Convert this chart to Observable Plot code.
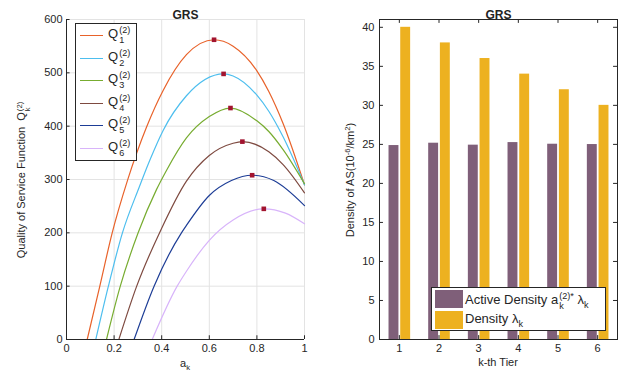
<!DOCTYPE html>
<html><head><meta charset="utf-8">
<script src="https://cdn.jsdelivr.net/npm/d3@7"></script>
<script src="https://cdn.jsdelivr.net/npm/@observablehq/plot@0.6"></script>
<style>
body{margin:0;background:#fff}
#root{position:relative;width:638px;height:372px;overflow:hidden;font-family:"Liberation Sans",Arial,sans-serif;color:#262626;background:#fff}
#root svg{position:absolute;top:0}
.lab{position:absolute;white-space:nowrap;transform:translate(-50%,-50%);font-size:11px;line-height:1}
.rot{transform:translate(-50%,-50%) rotate(-90deg)}
.ss{display:inline-block;vertical-align:-0.6em;font-size:0.7em;line-height:1.1;text-align:left;margin-left:1px}
.ss>span{display:block}
.sb{font-size:0.7em;vertical-align:-0.45em;line-height:0}
sup{font-size:0.7em;vertical-align:0.5em;line-height:0}
.legL{position:absolute;left:75px;top:23px;width:62px;height:138px;border:1px solid #262626;background:#fff;box-sizing:border-box}
.legL .row{position:absolute;left:0;height:23px;width:100%}
.legL .ln{position:absolute;left:4px;width:23px;top:11px;height:0;border-top:1.5px solid}
.legL .tx{position:absolute;left:32px;top:1px;font-size:13px;line-height:1}
.legR{position:absolute;left:431px;top:287px;width:175px;height:44px;border:1px solid #262626;background:#fff;box-sizing:border-box}
.legR .sw{position:absolute;left:3px;width:28px;height:18px}
.legR .tx{position:absolute;left:33px;font-size:13px;line-height:1}
</style></head><body><div id="root"></div><script>
// ---------- Left chart data ----------
const chartTitle = "GRS";
const seriesIdx = [1, 2, 3, 4, 5, 6];
const seriesColors = ["#e8622a", "#4dbeee", "#77ac30", "#7e4a40", "#1d3d96", "#d8b4fa"];
const aQ1 = [0.087, 0.14, 0.192, 0.256, 0.336, 0.406, 0.504, 0.62, 0.7, 0.798, 0.85, 0.91, 1.0];
const vQ1 = [0, 100, 200, 298, 398, 467, 534, 562, 550, 505, 465, 405, 290];
const aQ2 = [0.123, 0.176, 0.235, 0.305, 0.35, 0.406, 0.504, 0.66, 0.7, 0.8, 0.85, 0.91, 1.0];
const vQ2 = [0, 100, 200, 285, 336, 392, 457, 498, 494, 458, 428, 380, 290];
const aQ3 = [0.168, 0.226, 0.301, 0.378, 0.42, 0.504, 0.6, 0.689, 0.8, 0.85, 0.91, 1.0];
const vQ3 = [0, 100, 200, 281, 317, 378, 418, 434, 410, 390, 356, 292];
const aQ4 = [0.22, 0.295, 0.396, 0.504, 0.6, 0.7, 0.739, 0.85, 0.91, 1.0];
const vQ4 = [0, 100, 205, 297, 345, 368, 371, 352, 328, 275];
const aQ5 = [0.284, 0.368, 0.483, 0.504, 0.6, 0.693, 0.78, 0.871, 1.0];
const vQ5 = [0, 100, 200, 214, 270, 298, 308, 298, 251];
const aQ6 = [0.36, 0.465, 0.504, 0.6, 0.7, 0.829, 0.92, 1.0];
const vQ6 = [0, 100, 128, 186, 224, 245, 237, 217];
const peakA = [0.62, 0.66, 0.689, 0.739, 0.78, 0.829];
const peakQ = [562, 498, 434, 371, 308, 245];
const xTicksL = [0, 0.2, 0.4, 0.6, 0.8, 1];
const yTicksL = [0, 100, 200, 300, 400, 500, 600];

// ---------- Right chart data ----------
const tiers = [1, 2, 3, 4, 5, 6];
const activeDensity = [24.85, 25.15, 24.9, 25.23, 25.02, 24.98];
const density = [40, 38, 36, 34, 32, 30];
const barColors = ["#7f5f79", "#edb120"];
const yTicksR = [0, 5, 10, 15, 20, 25, 30, 35, 40];

const font = "Liberation Sans, Arial, sans-serif";
const axisCol = "#262626";
const root = document.getElementById("root");

const curveA = [aQ1, aQ2, aQ3, aQ4, aQ5, aQ6];
const curveV = [vQ1, vQ2, vQ3, vQ4, vQ5, vQ6];
const lineData = curveA.flatMap((as, i) => as.map((a, j) => ({a, v: curveV[i][j], s: seriesIdx[i]})));
const peaks = peakA.map((a, i) => ({a, v: peakQ[i]}));

const left = Plot.plot({
  width: 320, height: 372,
  marginLeft: 66, marginRight: 16, marginTop: 19, marginBottom: 33,
  style: {fontFamily: font, fontSize: "11px", color: axisCol, background: "transparent", overflow: "visible"},
  x: {domain: [0, 1]},
  y: {domain: [0, 600]},
  color: {domain: seriesIdx, range: seriesColors},
  marks: [
    Plot.gridX(xTicksL, {stroke: "#e3e3e3", strokeOpacity: 1, strokeWidth: 1}),
    Plot.gridY(yTicksL, {stroke: "#e3e3e3", strokeOpacity: 1, strokeWidth: 1}),
    Plot.axisX(xTicksL, {tickSize: 0, tickPadding: 5, label: null, tickFormat: d => String(d), fill: axisCol}),
    Plot.axisY(yTicksL, {tickSize: 0, tickPadding: 4, label: null, fill: axisCol}),
    Plot.line(lineData, {x: "a", y: "v", z: "s", stroke: "s", strokeWidth: 1.2, curve: "monotone-x"}),
    Plot.dot(peaks, {x: "a", y: "v", symbol: "square", r: 2.6, fill: "#a2142f", stroke: "none"}),
    Plot.ruleX([0], {stroke: axisCol}),
    Plot.ruleY([0], {stroke: axisCol}),
    Plot.ruleY(yTicksL, {x1: 0, x2: 0.015, stroke: axisCol}),
    Plot.ruleX(xTicksL, {y1: 0, y2: 7, stroke: axisCol}),
    Plot.text([chartTitle], {frameAnchor: "top", dy: -9, fontSize: 12, fontWeight: "bold", fill: "#222"})
  ]
});
left.style.left = "0px";
root.appendChild(left);

const barRows = tiers.flatMap((t, i) => [
  {t, v: activeDensity[i], k: 0},
  {t, v: density[i], k: 1}
]);
const right = Plot.plot({
  width: 318, height: 372,
  marginLeft: 59, marginRight: 21, marginTop: 19, marginBottom: 33,
  style: {fontFamily: font, fontSize: "11px", color: axisCol, background: "transparent", overflow: "visible"},
  x: {domain: [0.5, 6.5]},
  y: {domain: [0, 41]},
  marks: [
    Plot.rectY(barRows, {
      x1: d => d.k === 0 ? d.t - 0.26 : d.t + 0.035,
      x2: d => d.k === 0 ? d.t - 0.01 : d.t + 0.285,
      y1: 0, y2: "v",
      fill: d => barColors[d.k]
    }),
    Plot.axisX(tiers, {tickSize: 0, tickPadding: 5, label: null, fill: axisCol}),
    Plot.axisY(yTicksR, {tickSize: 0, tickPadding: 5, label: null, fill: axisCol}),
    Plot.frame({stroke: axisCol}),
    Plot.ruleY(yTicksR, {x1: 0.5, x2: 0.6, stroke: axisCol}),
    Plot.ruleY(yTicksR, {x1: 6.4, x2: 6.5, stroke: axisCol}),
    Plot.ruleX(tiers, {y1: 0, y2: 0.5, stroke: axisCol}),
    Plot.ruleX(tiers, {y1: 40.5, y2: 41, stroke: axisCol}),
    Plot.text([chartTitle], {frameAnchor: "top", dy: -9, fontSize: 12, fontWeight: "bold", fill: "#222"})
  ]
});
right.style.left = "320px";
root.appendChild(right);

// ---------- HTML labels & legends ----------
const ss = (sup, sub) => `<span class="ss"><span>${sup}</span><span>${sub}</span></span>`;
function addLabel(html, x, y, rot) {
  const d = document.createElement("div");
  d.className = "lab" + (rot ? " rot" : "");
  d.style.left = x + "px"; d.style.top = y + "px";
  d.innerHTML = html;
  root.appendChild(d);
}
addLabel(`a<span class="sb">k</span>`, 185, 363);
addLabel(`k-th Tier`, 498, 362);
addLabel(`Quality of Service Function&nbsp; Q${ss("(2)", "k")}`, 24, 180, true);
addLabel(`Density of AS(10<sup>-6</sup>/km<sup>2</sup>)`, 350, 180, true);

const legL = document.createElement("div");
legL.className = "legL";
legL.innerHTML = seriesIdx.map((s, i) =>
  `<div class="row" style="top:${i * 22.6}px"><div class="ln" style="border-color:${seriesColors[i]}"></div><div class="tx">Q${ss("(2)", s)}</div></div>`
).join("");
root.appendChild(legL);

const legendLabels = [
  `Active Density a${ss("(2)*", "k")} &lambda;<span class="sb">k</span>`,
  `Density &lambda;<span class="sb">k</span>`
];
const legR = document.createElement("div");
legR.className = "legR";
legR.innerHTML = legendLabels.map((t, i) =>
  `<div class="sw" style="top:${2 + i * 21}px;background:${barColors[i]}"></div><div class="tx" style="top:${3 + i * 21}px">${t}</div>`
).join("");
root.appendChild(legR);
</script></body></html>
